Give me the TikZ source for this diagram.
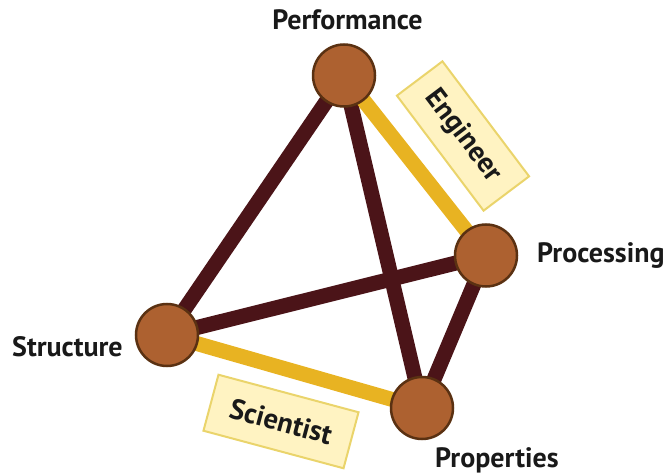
\documentclass[tikz,border=0pt]{standalone}
\usepackage{fontspec}
\setmainfont{PT Sans}
\definecolor{nodefill}{HTML}{AD6130}
\definecolor{nodeedge}{HTML}{5A3112}
\definecolor{maroon}{HTML}{4B1418}
\definecolor{gold}{HTML}{E8B322}
\definecolor{tagfill}{HTML}{FFF3C2}
\definecolor{tagedge}{HTML}{EAD46B}
\begin{document}
\begin{tikzpicture}[x=1pt,y=-1pt,
  vertex/.style={circle,fill=nodefill,draw=nodeedge,line width=2.5pt,minimum size=62pt,inner sep=0pt},
  link/.style={draw=maroon,line width=15pt},
  goldlink/.style={draw=gold,line width=15pt},
  lbl/.style={font=\bfseries\fontsize{28}{30}\selectfont,text=black!90,inner sep=0pt},
  tag/.style={draw=tagedge,fill=tagfill,line width=2pt,minimum width=144pt,minimum height=57pt,inner sep=0pt,
    font=\bfseries\fontsize{28.5}{30}\selectfont,text=black!90}]
\useasboundingbox (0,0) rectangle (667,473);
% tetrahedron corners (placed first so the edges can refer to them)
\path (344,75.5) coordinate (perf) (486,255.5) coordinate (proc)
      (167,335) coordinate (struc) (422,408) coordinate (prop);
% edges
\path[link] (perf) -- (struc);
\path[link] (perf) -- (prop);
\path[link] (struc) -- (proc);
\path[link] (proc) -- (prop);
\path[goldlink] (perf) -- (proc);
\path[goldlink] (struc) -- (prop);
% corners drawn over the edges
\node[vertex] (nperf) at (perf) {};
\node[vertex] (nproc) at (proc) {};
\node[vertex] (nstruc) at (struc) {};
\node[vertex] (nprop) at (prop) {};
% corner labels
\node[lbl,anchor=base] (tperf) at (347.5,30) {Performance};
\node[lbl,anchor=base west] (tproc) at (537,263) {Processing};
\node[lbl,anchor=base west] (tstruc) at (12,356) {Structure};
\node[lbl,anchor=base west] (tprop) at (435,467) {Properties};
% role tags
\node[tag,rotate=-53] (eng) at (463,136) {Engineer};
\node[tag,minimum width=145pt,minimum height=58pt,rotate=-15] (sci) at (281,421.5) {Scientist};
\end{tikzpicture}
\end{document}
